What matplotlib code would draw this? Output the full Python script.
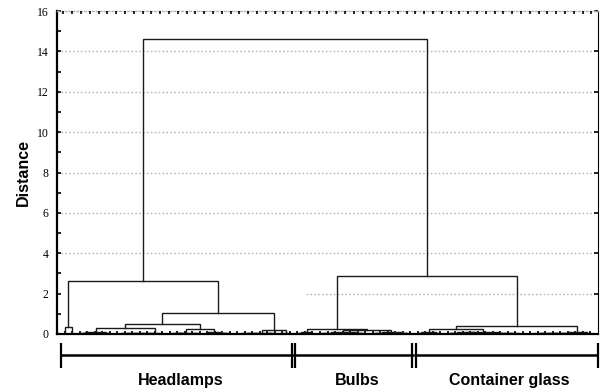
import matplotlib
matplotlib.use("Agg")
import matplotlib.pyplot as plt
from matplotlib.ticker import MultipleLocator
from matplotlib.transforms import blended_transform_factory

# ---------------- data ----------------
n_leaves = 71
# merges as (first leaf, first leaf of right branch, end leaf (exclusive), linkage distance)
headlamp_merges = [
    (0, 1, 2, 0.36),
    (3, 4, 5, 0.03), (2, 3, 5, 0.05), (5, 6, 7, 0.04), (2, 5, 7, 0.08),
    (7, 8, 9, 0.02), (7, 9, 10, 0.03), (7, 10, 11, 0.04), (7, 11, 12, 0.05),
    (7, 12, 13, 0.06), (7, 13, 14, 0.07),
    (2, 7, 14, 0.28),
    (15, 16, 17, 0.03), (14, 15, 17, 0.05), (17, 18, 19, 0.04), (14, 17, 19, 0.07),
    (21, 22, 23, 0.03), (20, 21, 23, 0.05), (19, 20, 23, 0.08),
    (14, 19, 23, 0.23),
    (2, 14, 23, 0.48),
    (23, 24, 25, 0.02), (23, 25, 26, 0.03), (23, 26, 27, 0.05),
    (27, 28, 29, 0.04), (23, 27, 29, 0.07),
    (29, 30, 31, 0.05),
    (23, 29, 31, 0.18),
    (2, 23, 31, 1.04),
    (0, 2, 31, 2.62),
]
bulb_merges = [
    (31, 32, 33, 0.04), (31, 33, 34, 0.08),
    (34, 35, 36, 0.03), (36, 37, 38, 0.04), (34, 36, 38, 0.06),
    (39, 40, 41, 0.03), (38, 39, 41, 0.05),
    (34, 38, 41, 0.10),
    (41, 42, 43, 0.03), (41, 43, 44, 0.05), (45, 46, 47, 0.03), (44, 45, 47, 0.05),
    (41, 44, 47, 0.09),
    (34, 41, 47, 0.20),
    (31, 34, 47, 0.26),
]
container_merges = [
    (47, 48, 49, 0.03), (49, 50, 51, 0.04), (47, 49, 51, 0.08),
    (51, 52, 53, 0.03), (51, 53, 54, 0.05), (55, 56, 57, 0.03), (54, 55, 57, 0.05),
    (51, 54, 57, 0.08),
    (60, 61, 62, 0.02), (59, 60, 62, 0.03), (58, 59, 62, 0.04), (57, 58, 62, 0.06),
    (51, 57, 62, 0.11),
    (47, 51, 62, 0.23),
    (62, 63, 64, 0.02), (62, 64, 65, 0.03), (62, 65, 66, 0.04), (62, 66, 67, 0.05),
    (62, 67, 68, 0.06), (62, 68, 69, 0.07), (69, 70, 71, 0.04), (62, 69, 71, 0.10),
    (47, 62, 71, 0.40),
]
top_merges = [
    (31, 47, 71, 2.87),
    (0, 31, 71, 14.62),
]

group_names = ["Headlamps", "Bulbs", "Container glass"]
group_start = [0, 31, 47]
group_end = [31, 47, 71]

y_ticks = [0, 2, 4, 6, 8, 10, 12, 14, 16]
y_label = "Distance"
grid2_start = 32.2  # the 2-level grid line is only visible right of here

# ---------------- figure ----------------
fig = plt.figure(figsize=(6.02, 3.92), dpi=100)
ax = fig.add_axes([57 / 602, 58 / 392, 541 / 602, 323 / 392])

merges = headlamp_merges + bulb_merges + container_merges + top_merges
node = {(lo, hi): (sp, h) for lo, sp, hi, h in merges}


def place(lo, hi):
    if hi - lo == 1:
        return float(lo), 0.0
    sp, h = node[(lo, hi)]
    return (place(lo, sp)[0] + place(sp, hi)[0]) / 2.0, h


grid_kw = dict(color="#b4b4b4", lw=1.0, linestyle=(0, (1.2, 1.6)), zorder=0)
for yv in y_ticks[2:-1]:
    ax.axhline(yv, **grid_kw)
ax.hlines(2, grid2_start, n_leaves, **grid_kw)

for lo, sp, hi, h in merges:
    xl, hl = place(lo, sp)
    xr, hr = place(sp, hi)
    ax.plot([xl, xl, xr, xr], [hl, h, h, hr], color="#1a1a1a", lw=1.0,
            solid_joinstyle="miter", zorder=2)

ax.set_xlim(-1, n_leaves)
ax.set_ylim(0, 16)

# spines
ax.spines["left"].set_linewidth(1.6)
ax.spines["bottom"].set_linewidth(1.6)
ax.spines["right"].set_linewidth(0.8)
ax.spines["top"].set_color("#b4b4b4")
ax.spines["top"].set_linestyle((0, (1.2, 1.6)))
ax.spines["top"].set_linewidth(1.0)

# ticks
ax.set_xticks(range(n_leaves))
ax.set_xticklabels([])
ax.tick_params(axis="x", direction="in", length=2.2, width=1.2, color="black")
ax.set_yticks(y_ticks)
ax.set_yticklabels([str(v) for v in y_ticks], fontfamily="Liberation Serif",
                   fontsize=8.5)
ax.yaxis.set_minor_locator(MultipleLocator(1))
ax.tick_params(axis="y", which="major", direction="in", length=3, width=1.2,
               left=True, right=True, pad=6)
ax.tick_params(axis="y", which="minor", direction="in", length=3, width=1.2,
               left=True, right=False)

top = ax.twiny()
top.set_xlim(-0.72, 60.76)
top.set_xticks(range(61))
top.set_xticklabels([])
top.tick_params(axis="x", direction="in", length=2.5, width=1.2, color="black")
for s in top.spines.values():
    s.set_visible(False)

ax.set_ylabel(y_label, fontfamily="Liberation Sans", fontweight="bold",
              fontsize=11.5, labelpad=4)

# group brackets under the axis
tr = blended_transform_factory(ax.transData, ax.transAxes)
y_line = -0.066
bounds = [group_start[0] - 0.5] + [s - 0.5 for s in group_start[1:]] + [group_end[-1]]
for i, name in enumerate(group_names):
    xs, xe = bounds[i], bounds[i + 1]
    ax.plot([xs, xe], [y_line, y_line], color="black", lw=1.8, transform=tr,
            clip_on=False, solid_capstyle="butt")
    ax.text((xs + xe) / 2.0 + 0.5, -0.145, name, transform=tr, ha="center",
            va="center", fontfamily="Liberation Sans", fontweight="bold",
            fontsize=11.5)

for j, b in enumerate(bounds):
    offs = [0.0] if j in (0, len(bounds) - 1) else [-0.22, 0.22]
    for o in offs:
        ax.plot([b + o, b + o], [-0.028, -0.105], color="black", lw=1.6,
                transform=tr, clip_on=False, solid_capstyle="butt")

fig.savefig("out.png", dpi=100)
